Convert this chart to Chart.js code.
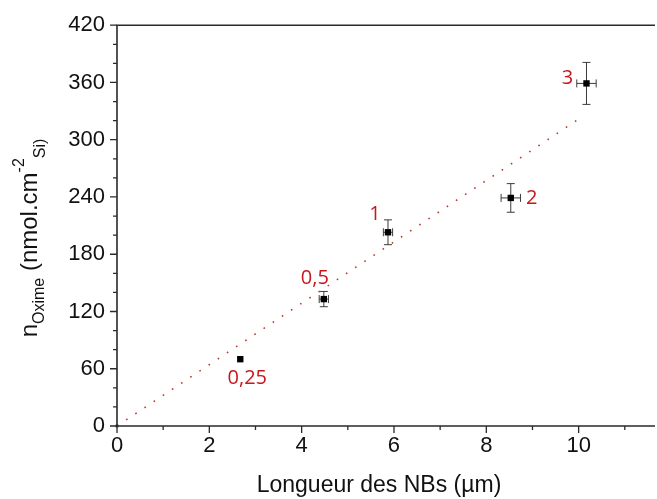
<!DOCTYPE html>
<html><head><meta charset="utf-8">
<script src="https://cdn.jsdelivr.net/npm/chart.js@4.4.0/dist/chart.umd.min.js"></script>
<style>html,body{margin:0;padding:0;background:#fff;overflow:hidden}#wrap{width:657px;height:499px;position:relative}</style>
</head><body><div id="wrap"><canvas id="c" width="657" height="499"></canvas></div>
<script>
// ---- data ----
const pointLabels = ['0,25', '0,5', '1', '2', '3'];
const xValues = [2.67, 4.48, 5.87, 8.53, 10.17];
const yValues = [70, 133, 203, 239, 359];
const xErrors = [0, 0.1, 0.1, 0.21, 0.21];
const yErrors = [0, 8, 13, 15, 22];
const fitX = [0, 9.95];
const fitY = [0, 320];
const originX = [0];
const originY = [0];
const xTicks = [0, 2, 4, 6, 8, 10];
const xMinorTicks = [1, 3, 5, 7, 9, 11];
const yTicks = [0, 60, 120, 180, 240, 300, 360, 420];
const yMinorTicks = [20, 40, 80, 100, 140, 160, 200, 220, 260, 280, 320, 340, 380, 400];

// ---- styles ----
const labelOffsets = [[7, 19], [-9, -21], [-13, -18], [21, 0], [-19, -5]];
const FONT = '"Liberation Sans", Arial, sans-serif';
const AXIS = '#2a2a2a';

const decor = {
  id: 'decor',
  beforeDatasetsDraw(chart) {
    const { ctx, scales: { x, y } } = chart;
    ctx.save();
    ctx.strokeStyle = '#3c3c3c';
    ctx.lineWidth = 1;
    const cap = 4;
    xValues.forEach((xv, i) => {
      const px = x.getPixelForValue(xv), py = y.getPixelForValue(yValues[i]);
      if (yErrors[i]) {
        const t = y.getPixelForValue(yValues[i] + yErrors[i]);
        const b = y.getPixelForValue(yValues[i] - yErrors[i]);
        ctx.beginPath();
        ctx.moveTo(px, t); ctx.lineTo(px, b);
        ctx.moveTo(px - cap, t); ctx.lineTo(px + cap, t);
        ctx.moveTo(px - cap, b); ctx.lineTo(px + cap, b);
        ctx.stroke();
      }
      if (xErrors[i]) {
        const l = x.getPixelForValue(xv - xErrors[i]);
        const r = x.getPixelForValue(xv + xErrors[i]);
        ctx.beginPath();
        ctx.moveTo(l, py); ctx.lineTo(r, py);
        ctx.moveTo(l, py - cap); ctx.lineTo(l, py + cap);
        ctx.moveTo(r, py - cap); ctx.lineTo(r, py + cap);
        ctx.stroke();
      }
    });
    ctx.restore();
  },
  afterDraw(chart) {
    const { ctx, chartArea: a, scales: { x, y } } = chart;
    ctx.save();
    // axes lines
    ctx.strokeStyle = AXIS;
    ctx.lineWidth = 1.6;
    ctx.beginPath();
    ctx.moveTo(a.left, a.top); ctx.lineTo(a.left, a.bottom);
    ctx.moveTo(a.left - 0.8, a.bottom); ctx.lineTo(chart.width - 2, a.bottom);
    ctx.moveTo(a.left - 0.8, a.top); ctx.lineTo(chart.width - 2, a.top);
    ctx.stroke();
    // ticks
    ctx.lineWidth = 1.3;
    ctx.beginPath();
    yTicks.forEach(v => { const p = y.getPixelForValue(v); ctx.moveTo(a.left, p); ctx.lineTo(a.left - 7, p); });
    yMinorTicks.forEach(v => { const p = y.getPixelForValue(v); ctx.moveTo(a.left, p); ctx.lineTo(a.left - 4, p); });
    xTicks.forEach(v => { const p = x.getPixelForValue(v); ctx.moveTo(p, a.bottom); ctx.lineTo(p, a.bottom + 7); });
    xMinorTicks.forEach(v => { const p = x.getPixelForValue(v); if (p < chart.width) { ctx.moveTo(p, a.bottom); ctx.lineTo(p, a.bottom + 4); } });
    ctx.stroke();

    // point labels
    ctx.fillStyle = '#c8161d';
    ctx.font = '20px "Open Sans", "Noto Sans", sans-serif';
    ctx.textAlign = 'center';
    ctx.textBaseline = 'middle';
    pointLabels.forEach((t, i) => {
      const px = x.getPixelForValue(xValues[i]), py = y.getPixelForValue(yValues[i]);
      ctx.fillText(t, px + labelOffsets[i][0], py + labelOffsets[i][1]);
    });

    // x title
    ctx.fillStyle = '#111';
    ctx.font = '23px ' + FONT;
    ctx.textBaseline = 'alphabetic';
    ctx.fillText('Longueur des NBs (µm)', 379, 492);

    // y title with sub/superscripts
    const segs = [
      { t: 'n', s: 24, dy: 0 },
      { t: 'Oxime', s: 16, dy: 7 },
      { t: ' (nmol.cm', s: 24, dy: 0 },
      { t: '-2', s: 16, dy: -13 },
      { t: 'Si)', s: 16, dy: 8 }
    ];
    let total = 0;
    segs.forEach(sg => { ctx.font = sg.s + 'px ' + FONT; sg.w = ctx.measureText(sg.t).width; total += sg.w; });
    ctx.translate(37, 238);
    ctx.rotate(-Math.PI / 2);
    ctx.textAlign = 'left';
    let cx = -total / 2;
    segs.forEach(sg => {
      ctx.font = sg.s + 'px ' + FONT;
      ctx.fillText(sg.t, cx, sg.dy);
      cx += sg.w;
    });
    ctx.restore();
  }
};

const toPts = (xs, ys) => xs.map((v, i) => ({ x: v, y: ys[i] }));

new Chart(document.getElementById('c'), {
  type: 'scatter',
  data: {
    datasets: [
      {
        data: toPts(fitX, fitY),
        showLine: true,
        borderColor: '#c0392b',
        borderWidth: 1.6,
        borderDash: [1.6, 9.4],
        pointRadius: 0,
        clip: false
      },
      {
        data: toPts(xValues, yValues),
        pointStyle: 'rect',
        pointRadius: 4.5,
        backgroundColor: '#000',
        borderColor: '#000',
        borderWidth: 0,
        clip: false
      },
      {
        data: toPts(originX, originY),
        pointStyle: 'rect',
        pointRadius: 2,
        backgroundColor: '#222',
        borderWidth: 0,
        clip: false
      }
    ]
  },
  options: {
    responsive: false,
    animation: false,
    devicePixelRatio: 1,
    layout: { padding: { top: 22, right: 0, left: 0, bottom: 0 } },
    plugins: { legend: { display: false }, tooltip: { enabled: false } },
    scales: {
      x: {
        type: 'linear', min: 0, max: 11.6,
        afterFit: s => { s.height = 73; },
        afterBuildTicks: s => { s.ticks = xTicks.map(v => ({ value: v })); },
        grid: { display: false, drawTicks: false },
        border: { display: false },
        ticks: { color: '#111', font: { family: FONT, size: 22 }, padding: 7, maxRotation: 0, autoSkip: false }
      },
      y: {
        type: 'linear', min: 0, max: 420,
        afterFit: s => { s.width = 117; },
        afterBuildTicks: s => { s.ticks = yTicks.map(v => ({ value: v })); },
        grid: { display: false, drawTicks: false },
        border: { display: false },
        ticks: { color: '#111', font: { family: FONT, size: 22 }, padding: 12, autoSkip: false }
      }
    }
  },
  plugins: [decor]
});
</script>
</body></html>
